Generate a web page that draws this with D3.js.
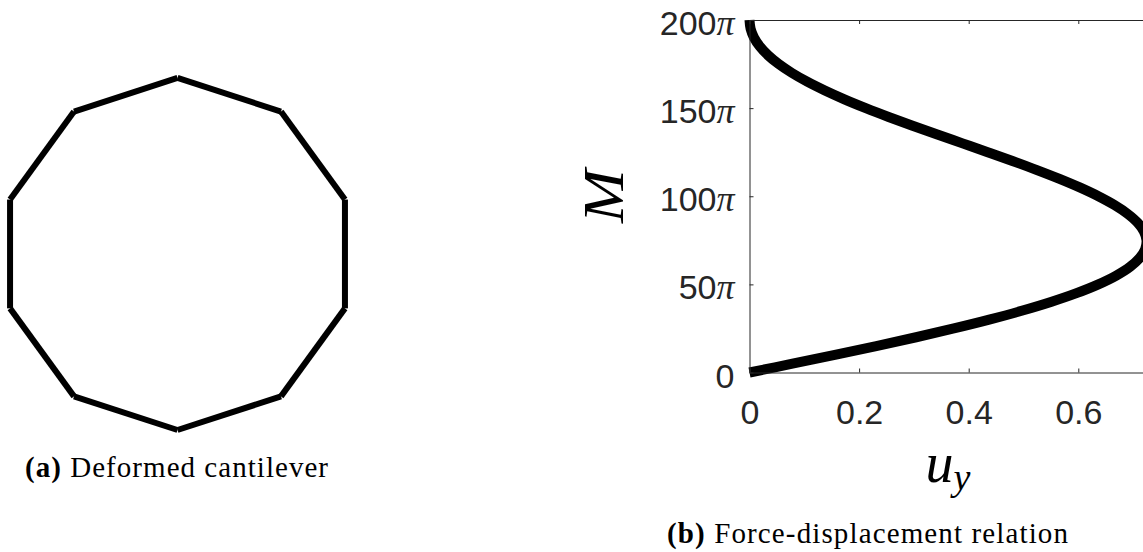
<!DOCTYPE html>
<html>
<head>
<meta charset="utf-8">
<script src="https://cdn.jsdelivr.net/npm/d3@7"></script>
<style>
  html, body { margin: 0; padding: 0; background: #ffffff; }
  svg { display: block; }
</style>
</head>
<body>
<svg id="fig" width="1143" height="552"></svg>
<script>
// ---- (a) deformed cantilever: node coordinates of the 10-element beam ----
const nodeX = [0, 0.0951, 0.1539, 0.1539, 0.0951, 0, -0.0951, -0.1539, -0.1539, -0.0951, 0];
const nodeY = [0, 0.0309, 0.1118, 0.2118, 0.2927, 0.3236, 0.2927, 0.2118, 0.1118, 0.0309, 0];

// ---- (b) force-displacement relation: end moment M (multiples of pi) vs tip displacement u_y ----
const momentPi = [0, 5, 10, 15, 20, 25, 30, 35, 40, 45, 50, 55, 60, 65, 70, 75, 80, 85, 90, 95, 100,
                  105, 110, 115, 120, 125, 130, 135, 140, 145, 150, 155, 160, 165, 170, 175, 180, 185, 190, 195, 200];
const dispY = [0, 0.0784, 0.1558, 0.2313, 0.3040, 0.3729, 0.4374, 0.4966, 0.5499, 0.5967, 0.6366,
               0.6693, 0.6945, 0.7120, 0.7220, 0.7245, 0.7198, 0.7082, 0.6900, 0.6660, 0.6366,
               0.6026, 0.5646, 0.5234, 0.4799, 0.4347, 0.3888, 0.3428, 0.2976, 0.2539, 0.2122,
               0.1732, 0.1375, 0.1053, 0.0772, 0.0533, 0.0338, 0.0188, 0.0082, 0.0020, 0];

const xTickValues = [0, 0.2, 0.4, 0.6];
const xTickLabels = ["0", "0.2", "0.4", "0.6"];
const yTickValues = [0, 50, 100, 150, 200];
const yTickLabels = ["0", "50", "100", "150", "200"];

const svg = d3.select("#fig");
const axisColor = "#262626";
const sansFont = "'Liberation Sans', Arial, Helvetica, sans-serif";
const serifFont = "'Liberation Serif', 'Times New Roman', serif";

// ================= panel (a) =================
const unitPx = 1088;
const beamX = d3.scaleLinear().domain([0, 1]).range([177.5, 177.5 + unitPx]);
const beamY = d3.scaleLinear().domain([0, 1]).range([430, 430 - unitPx]);

const segments = d3.range(nodeX.length - 1).map(i => ({
  x1: nodeX[i], y1: nodeY[i], x2: nodeX[i + 1], y2: nodeY[i + 1]
}));

svg.append("g").attr("class", "beam")
  .selectAll("line").data(segments).join("line")
  .attr("x1", d => beamX(d.x1)).attr("y1", d => beamY(d.y1))
  .attr("x2", d => beamX(d.x2)).attr("y2", d => beamY(d.y2))
  .attr("stroke", "#000").attr("stroke-width", 6).attr("stroke-linecap", "butt");

// ================= panel (b) =================
const plot = { left: 749.5, top: 20, bottom: 372.5 };
const xMax = d3.max(dispY);
const x = d3.scaleLinear().domain([0, xMax]).range([plot.left, plot.left + xMax * 548]);
const y = d3.scaleLinear().domain([0, 200]).range([plot.bottom, plot.top]);

const gb = svg.append("g").attr("class", "panel-b");

// curve
const curve = momentPi.map((m, i) => ({ m, u: dispY[i] }));
gb.append("path")
  .datum(curve)
  .attr("fill", "none")
  .attr("stroke", "#000")
  .attr("stroke-width", 10)
  .attr("stroke-linejoin", "round")
  .attr("d", d3.line().x(d => x(d.u)).y(d => y(d.m)).curve(d3.curveCatmullRom));

// bottom axis
const xAxis = gb.append("g")
  .attr("transform", `translate(0,${plot.bottom})`)
  .call(d3.axisBottom(x).tickValues(xTickValues)
    .tickFormat((d, i) => xTickLabels[i]).tickSizeInner(-4).tickSizeOuter(0).tickPadding(0));
xAxis.select(".domain").attr("stroke", axisColor);
xAxis.selectAll(".tick line").attr("stroke", axisColor);
xAxis.selectAll(".tick text")
  .attr("y", 51.5).attr("dy", null)
  .attr("fill", axisColor)
  .style("font-family", sansFont).style("font-size", "34px");

// top axis (box)
const xTop = gb.append("g")
  .attr("transform", `translate(0,${plot.top})`)
  .call(d3.axisTop(x).tickValues(xTickValues).tickFormat("").tickSizeInner(-4).tickSizeOuter(0));
xTop.select(".domain").attr("stroke", axisColor);
xTop.selectAll(".tick line").attr("stroke", axisColor);

// left axis
const yAxis = gb.append("g")
  .attr("transform", `translate(${plot.left},0)`)
  .call(d3.axisLeft(y).tickValues(yTickValues)
    .tickFormat("").tickSizeInner(-4).tickSizeOuter(0));
yAxis.select(".domain").attr("stroke", axisColor);
yAxis.selectAll(".tick line").attr("stroke", axisColor);
yAxis.selectAll(".tick").each(function (d, i) {
  const t = d3.select(this).append("text")
    .attr("x", -15).attr("y", 14.5)
    .attr("text-anchor", "end")
    .attr("fill", axisColor)
    .style("font-family", sansFont).style("font-size", "34px");
  t.append("tspan").text(yTickLabels[i]);
  if (d !== 0) {
    t.append("tspan").text("π")
      .style("font-family", serifFont).style("font-style", "italic").style("font-size", "36px");
  }
});

// axis titles
gb.append("text")
  .attr("transform", `translate(623,${(plot.top + plot.bottom) / 2}) rotate(-90) scale(1.15,1)`)
  .attr("text-anchor", "middle")
  .attr("fill", "#000")
  .style("font-family", serifFont).style("font-style", "italic").style("font-size", "56px")
  .text("M");

const uy = gb.append("text")
  .attr("x", (x.range()[0] + x.range()[1]) / 2).attr("y", 482)
  .attr("text-anchor", "middle")
  .attr("fill", "#000")
  .style("font-family", serifFont).style("font-style", "italic").style("font-size", "56px");
uy.append("tspan").text("u");
uy.append("tspan").attr("dy", 8).style("font-size", "38px").text("y");

// ================= captions =================
function caption(xLeft, baseline, tag, body, width) {
  const t = svg.append("text")
    .attr("x", xLeft).attr("y", baseline)
    .attr("fill", "#000")
    .style("font-family", serifFont).style("font-size", "29px");
  t.append("tspan").style("font-weight", "bold").text(tag);
  t.append("tspan").text("\u00a0" + body);
  const natural = t.node().getComputedTextLength();
  const n = (tag + " " + body).length;
  t.style("letter-spacing", ((width - natural) / (n - 1)) + "px");
}
caption(25, 477, "(a)", "Deformed cantilever", 303);
caption(667, 543, "(b)", "Force-displacement relation", 401);
</script>
</body>
</html>
